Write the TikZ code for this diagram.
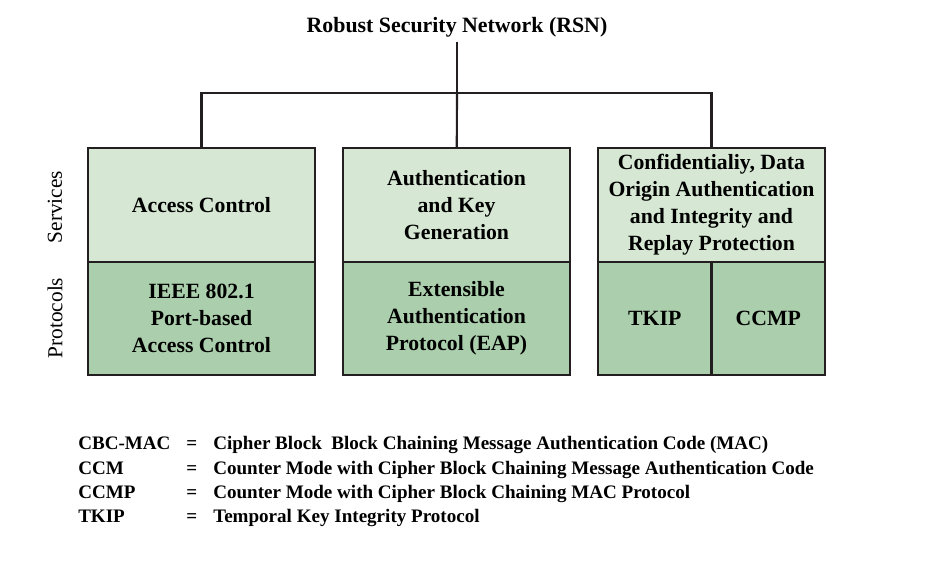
\documentclass[tikz,border=0pt]{standalone}
\usepackage{fontspec}
\setmainfont{Liberation Serif}
\usetikzlibrary{positioning}
\definecolor{srvgreen}{RGB}{214,232,211}
\definecolor{protgreen}{RGB}{171,207,172}
\definecolor{edgegray}{RGB}{35,31,32}

\begin{document}
\begin{tikzpicture}[x=0.75pt, y=-0.75pt,
    box/.style={draw=edgegray, line width=2pt, outer sep=0pt, inner sep=2pt, align=center, minimum width=170.25pt, font=\fontsize{16.3}{20.25}\selectfont\bfseries},
    srv/.style={box, fill=srvgreen, minimum height=85.5pt},
    prot/.style={box, fill=protgreen, minimum height=84.75pt},
    wire/.style={draw=edgegray, line width=1.6pt},
    side/.style={rotate=90, font=\fontsize{16}{18}\selectfont},
    legend/.style={anchor=base west, inner sep=0pt, font=\fontsize{14.3}{17}\selectfont\bfseries}]
        \useasboundingbox (0,0) rectangle (937,572);

        \node [font=\fontsize{16.4}{19}\selectfont\bfseries] (rsn) at (457,27) {Robust Security Network (RSN)};

        \node [srv] (srv1) at (201.5,205) {Access Control};
        \node [srv, right=21pt of srv1] (srv2) {Authentication\\and Key\\Generation};
        \node [srv, right=21pt of srv2] (srv3) {Confidentialiy, Data\\Origin Authentication\\and Integrity and\\Replay Protection};

        \node [prot, below=0pt of srv1] (prot1) {IEEE 802.1\\Port-based\\Access Control};
        \node [prot, below=0pt of srv2] (prot2) {Extensible\\Authentication\\Protocol (EAP)};
        \node [prot, minimum width=85.125pt, below right=0pt and 0pt of srv3.south west] (tkip) {TKIP};
        \node [prot, minimum width=85.125pt, right=0pt of tkip] (ccmp) {CCMP};

        \node [side] (services) at (55,207) {Services};
        \node [side] (protocols) at (55,318) {Protocols};

        \coordinate (hub) at (457,93);
        \draw [wire] (rsn) -- (hub);
        \draw [wire] (srv1.north) |- (hub) -| (srv3.north);
        \draw [wire] (hub) -- (srv2);

        \node [legend] (cbcmac) at (78,449) {CBC-MAC};
        \node [legend] (cbcmacEq) at (186,449) {=};
        \node [legend] (cbcmacDef) at (213,449) {Cipher Block~ Block Chaining Message Authentication Code (MAC)};
        \node [legend] (ccm) at (78,474) {CCM};
        \node [legend] (ccmEq) at (186,474) {=};
        \node [legend] (ccmDef) at (213,474) {Counter Mode with Cipher Block Chaining Message Authentication Code};
        \node [legend] (ccmpAbbr) at (78,498) {CCMP};
        \node [legend] (ccmpEq) at (186,498) {=};
        \node [legend] (ccmpDef) at (213,498) {Counter Mode with Cipher Block Chaining MAC Protocol};
        \node [legend] (tkipAbbr) at (78,522) {TKIP};
        \node [legend] (tkipEq) at (186,522) {=};
        \node [legend] (tkipDef) at (213,522) {Temporal Key Integrity Protocol};
\end{tikzpicture}
\end{document}
